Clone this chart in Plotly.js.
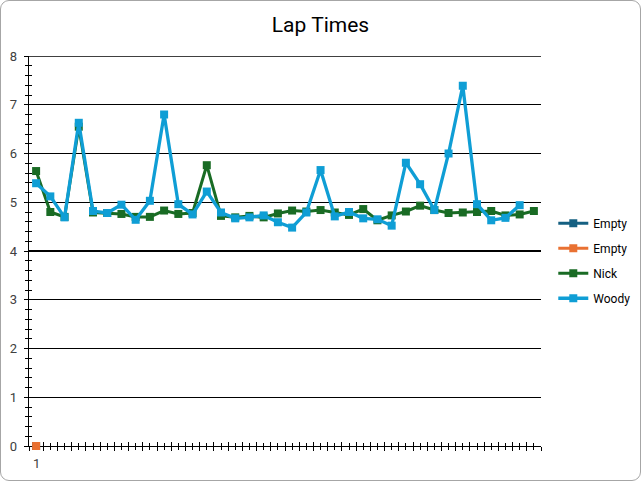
<!DOCTYPE html>
<html>
<head>
<meta charset="utf-8">
<script src="https://cdn.plot.ly/plotly-3.0.1.min.js"></script>
<style>
html,body{margin:0;padding:0;background:#fff;}
#wrap{position:relative;width:641px;height:481px;}
#chart{width:641px;height:481px;}
#frame{position:absolute;left:0;top:0;width:639px;height:479px;border:1px solid #a6a6a6;border-radius:9px;pointer-events:none;}
</style>
</head>
<body>
<div id="wrap"><div id="chart"></div><div id="frame"></div></div>
<script>
const laps = Array.from({length: 36}, (_, i) => i + 1);
const empty1 = [0];
const empty2 = [0];
const nick = [5.64, 4.80, 4.70, 6.55, 4.79, 4.78, 4.76, 4.70, 4.70, 4.83, 4.76, 4.78,
  5.76, 4.72, 4.69, 4.72, 4.69, 4.77, 4.83, 4.81, 4.84, 4.79, 4.74, 4.86,
  4.63, 4.73, 4.81, 4.93, 4.84, 4.78, 4.79, 4.80, 4.82, 4.73, 4.75, 4.82];
const woody = [5.39, 5.12, 4.69, 6.63, 4.82, 4.78, 4.95, 4.64, 5.03, 6.80, 4.96, 4.75,
  5.22, 4.79, 4.67, 4.69, 4.73, 4.59, 4.48, 4.79, 5.66, 4.71, 4.80, 4.67,
  4.65, 4.52, 5.81, 5.37, 4.84, 6.00, 7.39, 4.96, 4.63, 4.68, 4.94];
const seriesNames = ['Empty', 'Empty', 'Nick', 'Woody'];
const colors = ['#156082', '#E97132', '#196B24', '#0F9ED5'];
const xLabels = ['1'];

function tr(name, y, color, grp, w) {
  return {
    type: 'scatter', mode: 'lines+markers', name: name,
    x: laps.slice(0, y.length), y: y,
    line: {color: color, width: w},
    marker: {symbol: 'square', size: 8, color: color},
    cliponaxis: false, legendgroup: grp
  };
}
const data = [
  tr(seriesNames[0], empty1, colors[0], 'a', 3),
  tr(seriesNames[1], empty2, colors[1], 'b', 3),
  tr(seriesNames[2], nick, colors[2], 'c', 3),
  tr(seriesNames[3], woody, colors[3], 'd', 3.3),
  {type: 'scatter', x: [1], y: [0], xaxis: 'x2', yaxis: 'y2', mode: 'markers',
   marker: {opacity: 0}, showlegend: false, hoverinfo: 'skip'}
];
const font = 'Roboto, "Liberation Sans", sans-serif';
const layout = {
  width: 641, height: 481,
  margin: {l: 29, r: 100, t: 56, b: 35, autoexpand: false},
  paper_bgcolor: '#fff', plot_bgcolor: '#fff',
  font: {family: font, color: '#404040', size: 12},
  title: {text: 'Lap Times', x: 0.5, xref: 'container', xanchor: 'center', y: 0.948, yanchor: 'middle',
          font: {family: font, size: 21, color: '#000'}},
  showlegend: true,
  legend: {x: 1.024, xanchor: 'left', y: 0.475, yanchor: 'middle',
           traceorder: 'grouped', tracegroupgap: 6,
           font: {family: font, size: 12, color: '#000'}, itemwidth: 30},
  xaxis: {range: [0.5, 36.5], showgrid: false, zeroline: false, layer: 'below traces',
          showline: true, linecolor: '#000', linewidth: 1.3,
          tickmode: 'linear', tick0: 0.5, dtick: 1, ticks: 'outside', ticklen: 4,
          tickcolor: '#000', tickwidth: 1, showticklabels: false,
          minor: {tickmode: 'linear', tick0: 1, dtick: 1, ticks: 'outside', ticklen: 3, tickcolor: '#000', showgrid: false}},
  xaxis2: {range: [0.5, 36.5], overlaying: 'x', anchor: 'y', showgrid: false, zeroline: false,
          showline: false, tickmode: 'linear', tick0: 0.5, dtick: 1, ticks: 'inside', ticklen: 4,
          tickcolor: '#000', tickwidth: 1, showticklabels: false, layer: 'below traces',
          minor: {tickmode: 'linear', tick0: 1, dtick: 1, ticks: 'inside', ticklen: 3, tickcolor: '#000', showgrid: false}},
  yaxis: {range: [0, 8], tickmode: 'linear', tick0: 0, dtick: 1, layer: 'below traces',
          showgrid: true, gridcolor: '#000', gridwidth: 1.3, zeroline: false,
          showline: true, linecolor: '#000', linewidth: 1.3,
          ticks: 'outside', ticklen: 4, tickcolor: '#000', tickwidth: 1,
          tickfont: {size: 13, color: '#404040'}, ticklabelstandoff: 4,
          minor: {tickmode: 'linear', tick0: 0, dtick: 0.2, ticks: 'outside', ticklen: 3, tickcolor: '#000', showgrid: false}},
  yaxis2: {range: [0, 8], overlaying: 'y', anchor: 'x', side: 'left', layer: 'below traces',
          tickmode: 'linear', tick0: 0, dtick: 1, showgrid: false, zeroline: false,
          showline: false, ticks: 'inside', ticklen: 4, tickcolor: '#000', tickwidth: 1,
          showticklabels: false,
          minor: {tickmode: 'linear', tick0: 0, dtick: 0.2, ticks: 'inside', ticklen: 3, tickcolor: '#000', showgrid: false}},
  shapes: [{type: 'line', xref: 'paper', x0: 0, x1: 1, yref: 'y', y0: 8, y1: 8,
            line: {color: '#000', width: 1.3}, layer: 'below'}],
  annotations: xLabels.map((t, i) => ({text: t, x: i + 1, xref: 'x', y: 0, yref: 'paper',
      yshift: -27, showarrow: false, font: {family: font, size: 13, color: '#404040'}}))
};
Plotly.newPlot('chart', data, layout, {displayModeBar: false, staticPlot: true});
</script>
</body>
</html>
